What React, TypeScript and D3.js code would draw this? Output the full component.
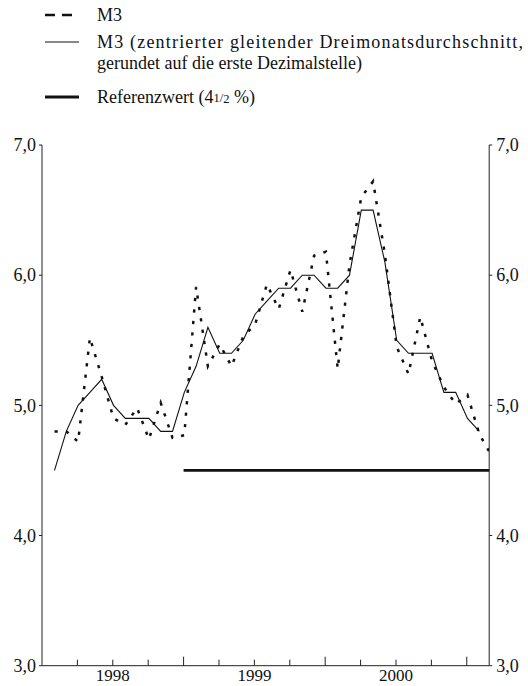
import React from "react";
import * as d3 from "d3";

// Monthly observations, January 1998 – February 2001
const months = [
  "1998-01", "1998-02", "1998-03", "1998-04", "1998-05", "1998-06",
  "1998-07", "1998-08", "1998-09", "1998-10", "1998-11", "1998-12",
  "1999-01", "1999-02", "1999-03", "1999-04", "1999-05", "1999-06",
  "1999-07", "1999-08", "1999-09", "1999-10", "1999-11", "1999-12",
  "2000-01", "2000-02", "2000-03", "2000-04", "2000-05", "2000-06",
  "2000-07", "2000-08", "2000-09", "2000-10", "2000-11", "2000-12",
  "2001-01", "2001-02",
];

// M3, annual growth rate (monthly)
const m3Monthly = [
  4.8, 4.8, 4.72, 5.52, 5.22, 4.9, 4.85, 4.98, 4.74, 5.02, 4.75, 4.77,
  5.91, 5.3, 5.47, 5.3, 5.53, 5.62, 5.93, 5.74, 6.04, 5.72, 6.15, 6.18,
  5.28, 6.08, 6.6, 6.72, 6.16, 5.45, 5.24, 5.68, 5.34, 5.14, 5.01, 5.08,
  4.78, 4.62,
];

// M3, centred three-month moving average (rounded)
const m3Average = [
  4.5, 4.8, 5.0, 5.1, 5.2, 5.0, 4.9, 4.9, 4.9, 4.8, 4.8, 5.1,
  5.3, 5.6, 5.4, 5.4, 5.5, 5.7, 5.8, 5.9, 5.9, 6.0, 6.0, 5.9,
  5.9, 6.0, 6.5, 6.5, 6.1, 5.5, 5.4, 5.4, 5.4, 5.1, 5.1, 4.9,
  4.8,
];

const referenceValue = 4.5;
const referenceStartMonth = "1999-01";

const yTicks = [3, 4, 5, 6, 7];
const years = ["1998", "1999", "2000"];

const legendM3 = "M3";
const legendAvg1 = "M3 (zentrierter gleitender Dreimonatsdurchschnitt,";
const legendAvg2 = "gerundet auf die erste Dezimalstelle)";
const legendRef = "Referenzwert (4";

export default function App() {
  const W = 528;
  const H = 686;
  const left = 42;
  const right = 489.2;
  const top = 145;
  const bottom = 665.7;
  const font = "'Liberation Serif', 'Times New Roman', serif";

  const x = d3.scaleLinear().domain([0, 37.9]).range([left, right]);
  const y = d3.scaleLinear().domain([3, 7]).range([bottom, top]);
  const px = (i: number) => x(i + 1.06);

  const line = d3
    .line<number>()
    .x((_, i) => px(i))
    .y((d) => y(d));

  const quarterTicks = d3.range(3, 37, 3);
  const refStart = months.indexOf(referenceStartMonth);
  const fmt = (v: number) => v.toFixed(1).replace(".", ",");

  return (
    <svg
      width={W}
      height={H}
      style={{ position: "absolute", left: 0, top: 0, background: "#fff" }}
      fontFamily={font}
    >
      <defs>
        <clipPath id="plotClip">
          <rect x={left} y={top - 20} width={right - left} height={bottom - top + 20} />
        </clipPath>
      </defs>

      {/* Legend */}
      <g fill="#111" fontSize={18}>
        <line x1={45} x2={78} y1={15} y2={15} stroke="#111" strokeWidth={2.5} strokeDasharray="10 7" />
        <text x={97} y={21}>{legendM3}</text>
        <line x1={45} x2={79} y1={42} y2={42} stroke="#111" strokeWidth={1} />
        <text x={97} y={48} textLength={426} lengthAdjust="spacing">{legendAvg1}</text>
        <text x={97} y={69}>{legendAvg2}</text>
        <line x1={45} x2={79} y1={97} y2={97} stroke="#111" strokeWidth={2.8} />
        <text x={97} y={103}>
          {legendRef}
          <tspan fontSize={12.5} dy={-1}>1</tspan>
          <tspan fontSize={12.5}>/</tspan>
          <tspan fontSize={12.5} dy={1}>2</tspan>
          <tspan> %)</tspan>
        </text>
      </g>

      {/* Axes */}
      <g stroke="#222" strokeWidth={1} fill="none">
        <line x1={left} x2={left} y1={top} y2={bottom} />
        <line x1={right} x2={right} y1={top} y2={bottom} />
        <line x1={left} x2={right} y1={bottom} y2={bottom} />
        {yTicks.map((t) => (
          <g key={t}>
            <line x1={left - 3} x2={left} y1={y(t)} y2={y(t)} />
            <line x1={right} x2={right + 3} y1={y(t)} y2={y(t)} />
          </g>
        ))}
        {quarterTicks.map((m) => (
          <line
            key={m}
            x1={x(m)}
            x2={x(m)}
            y1={bottom}
            y2={bottom - (m % 12 === 0 ? 9 : 6)}
          />
        ))}
      </g>

      <g fontSize={18} fill="#111">
        {yTicks.map((t) => (
          <g key={t}>
            <text x={left - 6} y={y(t)} dy="0.35em" textAnchor="end">{fmt(t)}</text>
            <text x={right + 7} y={y(t)} dy="0.35em" textAnchor="start">{fmt(t)}</text>
          </g>
        ))}
        {years.map((yr, i) => (
          <text key={yr} x={x(6 + 12 * i)} y={681} fontSize={17} textAnchor="middle">{yr}</text>
        ))}
      </g>

      {/* Reference value */}
      <line
        x1={x(refStart)}
        x2={right}
        y1={y(referenceValue)}
        y2={y(referenceValue)}
        stroke="#111"
        strokeWidth={2.8}
      />

      {/* Series */}
      <g clipPath="url(#plotClip)">
        <path d={line(m3Monthly) ?? ""} fill="none" stroke="#111" strokeWidth={2.5} strokeDasharray="3.2 8.3" />
        <path d={line(m3Average) ?? ""} fill="none" stroke="#111" strokeWidth={1.1} />
      </g>
    </svg>
  );
}
